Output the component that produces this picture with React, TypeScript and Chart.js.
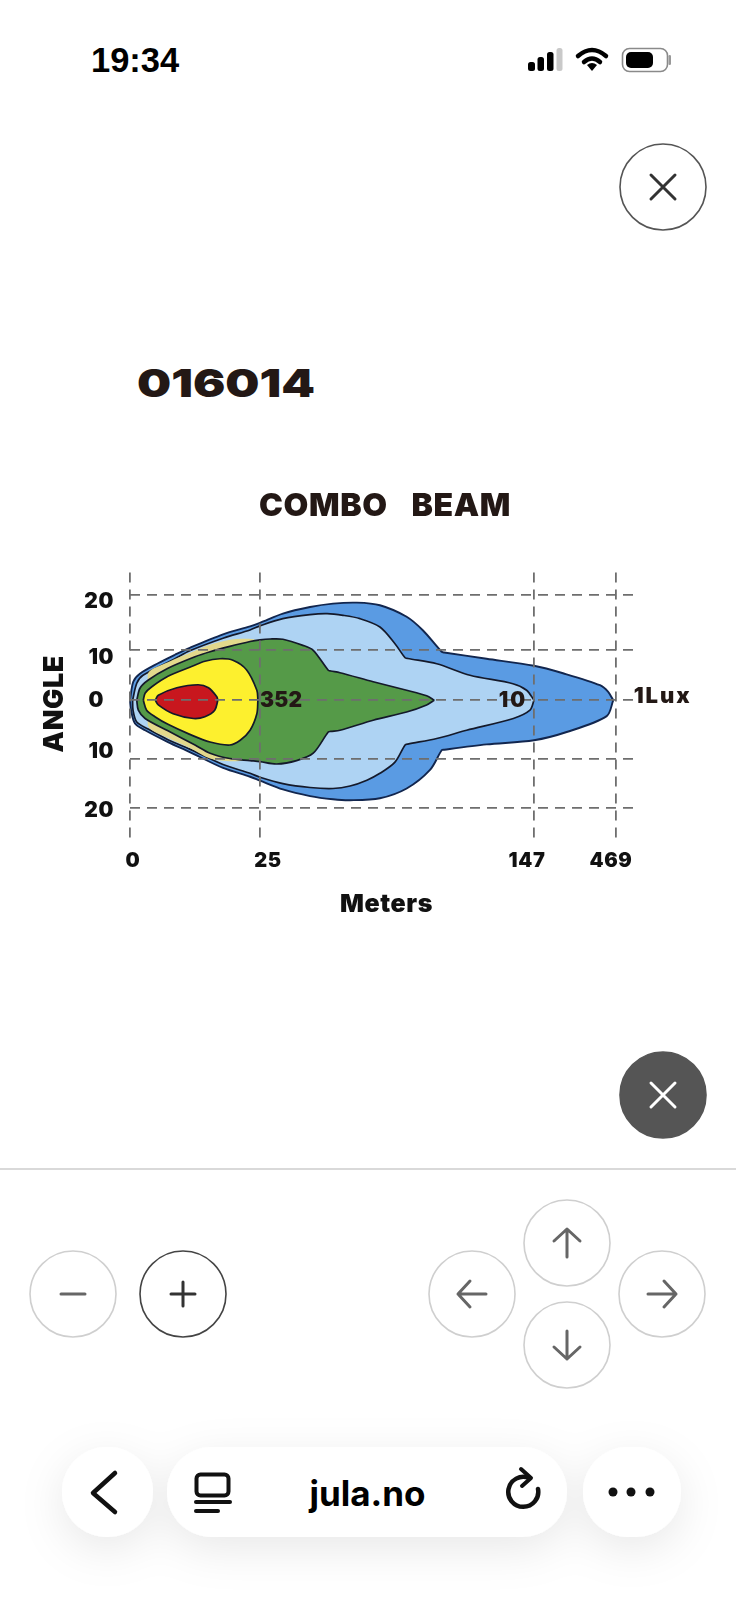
import React, { useEffect, useRef } from "react";
import { Chart, LinearScale, registerables } from "chart.js";

// ---- data: metres (x) and beam angle in degrees (y) ----
const xTicks = [0, 25, 147, 469];
const yTicks = [-20, -10, 0, 10, 20];

const lux1Upper = [[0,0],[0.63,3.7],[1.9,5.3],[5.4,7.4],[8.65,9.1],[11.5,10.45],[17.9,12.9],[23.1,14.36],[25,15],[35.2,16.67],[47.3,17.87],[57.5,18.49],[68.1,18.67],[78.4,18.2],[90.3,16.1],[97.6,13.6],[105.9,9.7],[107,9.55],[125.9,8.3],[147,6.9],[260.9,5.4],[406.2,3],[437.6,1.7],[458.4,0]];
const lux1Lower = [[0,0],[0.2,-1.7],[0.96,-3.95],[2.9,-5.1],[7.3,-7.1],[11.5,-8.8],[17.9,-11.8],[23.1,-13.6],[25,-14.4],[35.2,-16.2],[47.3,-17.55],[57.5,-18.2],[65.1,-18.4],[78.4,-18],[90.3,-16],[100.7,-12.2],[105.9,-8.5],[107,-8.4],[125.9,-7.5],[147,-6.8],[275.4,-5.4],[432.5,-2.7],[458.4,0]];
const lux10Upper = [[0.5,0],[1.3,3.4],[2.5,5],[8.65,8.3],[11.5,9.9],[17.9,12.2],[23.1,13.7],[25,14.45],[35.2,15.76],[47.3,16.5],[54.9,16.67],[62,16.36],[69.5,15.76],[78.4,14.24],[85.1,11.2],[89.6,8.5],[90.8,8.35],[103.7,7.3],[118.5,5],[137.6,3.3],[143.7,2],[147,0]];
const lux10Lower = [[0.5,0],[0.58,-1.7],[1.3,-3.7],[3.5,-4.9],[7.3,-6.7],[11.5,-8.3],[17.9,-11.1],[23.1,-12.9],[25,-13.7],[35.2,-15],[47.3,-15.8],[57.5,-16],[65.1,-15.5],[72.6,-14.3],[78.4,-12.9],[85.1,-10.6],[89.6,-7.6],[90.8,-7.45],[103.7,-6.5],[117,-5.1],[137.8,-3.1],[145.2,-1.7],[147,0]];
const paleUpper = [[3.4,0],[3.46,5.4],[7.3,7.6],[12.5,9.9],[15.4,11],[19.2,11.9],[22.4,12.1],[24,12]];
const paleLower = [[3.4,0],[3.5,-4.4],[7.3,-6.4],[11.5,-8.1],[15.4,-9.9],[18.6,-10.4],[21.2,-10.4],[24,-10]];
const greenUpper = [[1.3,0],[1.92,2.4],[3.46,4],[7.3,6.4],[12.5,8.7],[15.4,9.7],[19.2,10.7],[23.1,11.6],[25,11.9],[29.5,12.05],[35.2,12],[44.1,10.9],[48.7,10],[55.4,6],[56.5,5.85],[60.6,5.5],[75.4,3.7],[90.3,2],[99.2,0.9],[102.6,0]];
const greenLower = [[1.3,0],[1.6,-1.7],[2.9,-3.1],[7.3,-5.2],[12.5,-7.6],[15.4,-9],[19.2,-9.9],[23.1,-10.3],[25,-10.5],[32.4,-11],[41.3,-10.3],[48.7,-9],[55.4,-5.4],[56.5,-5.3],[60.6,-5.1],[75.4,-3.4],[90.3,-2],[99.2,-0.8],[102.6,0]];
const yellowUpper = [[2.56,0],[2.9,1.4],[4.2,2.7],[7.3,4.8],[11.5,6.6],[14.4,7.8],[17.3,8.3],[19.8,8],[22.4,6.1],[24.4,2],[24.6,0]];
const yellowLower = [[2.56,0],[3.2,-1.7],[4.8,-2.8],[7.3,-4.1],[11.5,-5.8],[15.4,-7.1],[19.2,-7.6],[21.2,-6.8],[23.1,-5.1],[24.4,-2.3],[24.6,0]];
const redUpper = [[4.87,0],[5.44,1],[9,2.5],[13.1,3.1],[15.1,2.5],[16.7,0.7],[16.9,0]];
const redLower = [[4.87,0],[5.44,-0.8],[8.3,-2.3],[12.2,-3.1],[14.4,-2.8],[16.3,-1.7],[16.9,0]];

const contourLabels = [
  { text: "352", x: 25, y: 0, align: "left", size: 21, spacing: "0.3px" },
  { text: "10", x: 144, y: 0, align: "right", size: 21, spacing: "2px" },
  { text: "1Lux", x: 653, y: 0.8, align: "center", size: 22, spacing: "2px" },
];

// ---- axis layout: the printed axes are not linear ----
const axisStops: any = {
  x: { values: [0, 25, 147, 469, 536], decimals: [0, 0.2584, 0.8032, 0.9662, 1], ticks: xTicks, nudge: [[3, 0], [8, 0], [-7, 0], [-5, 0]], title: [5, 0] },
  y: { values: [-25, -20, -10, 0, 10, 20, 25], decimals: [0, 0.1161, 0.2996, 0.5206, 0.7079, 0.9139, 1], ticks: yTicks, nudge: [[0, 3], [0, -7], [-10, 0], [0, 7], [0, 6]], title: [0, -2] },
};

class PrintedScale extends (LinearScale as any) {
  static id = "printed";
  static defaults = {};
  buildTicks() {
    return axisStops[this.id].ticks.map((value: number) => ({ value }));
  }
  getPixelForValue(v: number) {
    const { values, decimals } = axisStops[this.id];
    let i = 0;
    while (i < values.length - 2 && v > values[i + 1]) i++;
    const t = (v - values[i]) / (values[i + 1] - values[i]);
    return this.getPixelForDecimal(decimals[i] + t * (decimals[i + 1] - decimals[i]));
  }
  _computeLabelItems(area: any) {
    const items = super._computeLabelItems(area);
    const nudge = axisStops[this.id].nudge;
    items.forEach((item: any, i: number) => {
      const tr = item.options.translation;
      item.options.translation = [tr[0] + nudge[i][0], tr[1] + nudge[i][1]];
    });
    return items;
  }
  drawTitle() {
    const [dx, dy] = axisStops[this.id].title;
    this.ctx.save();
    this.ctx.translate(dx, dy);
    super.drawTitle();
    this.ctx.restore();
  }
}

Chart.register(...registerables, PrintedScale as any);

const FONT = "Inter";
const INK = "#231815";
const STROKE = "#14192a";

function toPoints(list: number[][]) {
  return list.map(([x, y]) => ({ x, y }));
}

function band(name: string, upper: number[][], lower: number[][], color: string, border: string, width = 1.7) {
  const common = {
    pointRadius: 0,
    borderColor: border,
    borderWidth: width,
    tension: 0.3,
    clip: false,
  };
  return [
    { ...common, label: name + " upper", data: toPoints(upper), fill: false },
    { ...common, label: name + " lower", data: toPoints(lower), fill: "-1", backgroundColor: color },
  ];
}

const labelPlugin = {
  id: "contourLabels",
  afterLayout(chart: any) {
    chart.titleBlock.left += 3.5;
    chart.titleBlock.right += 3.5;
  },
  beforeDraw(chart: any) {
    chart.ctx.letterSpacing = "0.6px";
    chart.ctx.wordSpacing = "5px";
  },
  afterDraw(chart: any) {
    const { ctx, scales } = chart;
    ctx.save();
    ctx.fillStyle = INK;
    ctx.textBaseline = "middle";
    contourLabels.forEach((l) => {
      ctx.font = `900 ${l.size}px ${FONT}`;
      ctx.letterSpacing = l.spacing;
      ctx.textAlign = l.align;
      ctx.fillText(l.text, scales.x.getPixelForValue(l.x), scales.y.getPixelForValue(l.y));
    });
    ctx.restore();
  },
};

function BeamChart() {
  const ref = useRef<HTMLCanvasElement>(null);
  useEffect(() => {
    const gridLine = { color: "#6e6e6e", lineWidth: 1.8, drawTicks: false, z: 1 };
    const dash = { display: false, dash: [10, 7] };
    const chart = new Chart(ref.current as any, {
      type: "line",
      data: {
        datasets: [
          ...band("100 lux", redUpper, redLower, "#c8171e", STROKE),
          ...band("50 lux", yellowUpper, yellowLower, "#fdf02e", STROKE),
          ...band("352 lux", greenUpper, greenLower, "#559a48", STROKE),
          ...band("pale", paleUpper, paleLower, "#e3d98c", "rgba(0,0,0,0)", 0),
          ...band("10 lux", lux10Upper, lux10Lower, "#aed3f3", STROKE),
          ...band("1 lux", lux1Upper, lux1Lower, "#5a9be3", "#12264e", 1.9),
        ] as any,
      },
      options: {
        responsive: false,
        animation: false,
        events: [],
        layout: { padding: { left: 39, right: 103, top: 0, bottom: 0 } },
        plugins: {
          legend: { display: false },
          tooltip: { enabled: false },
          filler: { drawTime: "beforeDatasetDraw" },
          title: {
            display: true,
            text: "COMBO  BEAM",
            fullSize: false,
            color: INK,
            font: { family: FONT, size: 32, weight: "900" },
            padding: { top: 7, bottom: 47 },
          },
        },
        scales: {
          x: {
            type: "printed",
            min: 0,
            max: 536,
            grid: gridLine,
            border: dash,
            afterFit: (s: any) => { s.height = 81; },
            ticks: { autoSkip: false, maxRotation: 0, padding: 10, color: "#111", font: { family: FONT, size: 20, weight: "900" } },
            title: { display: true, text: "Meters", color: "#111", padding: { top: 0, bottom: 1 }, font: { family: FONT, size: 25, weight: "900" } },
          },
          y: {
            type: "printed",
            min: -25,
            max: 25,
            grid: gridLine,
            border: dash,
            afterFit: (s: any) => { s.width = 91; },
            ticks: { autoSkip: false, padding: 16, color: "#111", font: { family: FONT, size: 21, weight: "900" }, callback: (v: any) => String(Math.abs(v)) },
            title: { display: true, text: "ANGLE", color: "#111", padding: 0, font: { family: FONT, size: 27, weight: "900" } },
          },
        },
      } as any,
      plugins: [labelPlugin as any],
    });
    return () => chart.destroy();
  }, []);
  return <canvas ref={ref} width={736} height={440} style={{ position: "absolute", left: 0, top: 480, width: 736, height: 440 }} />;
}

// ---- the surrounding phone screen ----
function Round({ cx, cy, border, fill, children }: any) {
  return (
    <g>
      <circle cx={cx} cy={cy} r={43} fill={fill || "#fff"} stroke={border} strokeWidth={1.6} />
      <g transform={`translate(${cx} ${cy})`} fill="none" strokeLinecap="round" strokeLinejoin="round">{children}</g>
    </g>
  );
}

const closeIcon = (c: string) => <path d="M-12 -12L12 12M12 -12L-12 12" stroke={c} strokeWidth={3} />;

function Screen() {
  return (
    <svg width={736} height={1600} style={{ position: "absolute", left: 0, top: 0 }}>
      <defs>
        <filter id="soft" x="-30%" y="-60%" width="160%" height="240%">
          <feDropShadow dx="0" dy="12" stdDeviation="22" floodColor="#000" floodOpacity="0.09" />
        </filter>
      </defs>
      <text x={91} y={72} fontFamily="'Liberation Sans'" fontWeight="bold" fontSize={34.5}>19:34</text>
      <rect x={528} y={62} width={7} height={9} rx={2.5} fill="#000" />
      <rect x={537.5} y={57} width={6.5} height={14} rx={2.5} fill="#000" />
      <rect x={547} y={52} width={6.5} height={19} rx={2.5} fill="#000" />
      <rect x={556.5} y={48} width={6} height={23} rx={2.5} fill="#c9c9c9" />
      <path d="M578 56 Q592 44 606 56" fill="none" stroke="#000" strokeWidth={4.5} strokeLinecap="round" />
      <path d="M584 62 Q592 55 600 62" fill="none" stroke="#000" strokeWidth={4.5} strokeLinecap="round" />
      <path d="M587 65 L592 71 L597 65 Q592 61 587 65Z" fill="#000" />
      <rect x={622.5} y={48.5} width={45} height={23} rx={7} fill="#fff" stroke="#8a8a8a" strokeWidth={1.6} />
      <rect x={626} y={52} width={27} height={16} rx={5} fill="#000" />
      <rect x={668.5} y={55} width={2.5} height={10} rx={1.2} fill="#999" />

      <Round cx={663} cy={187} border="#555">{closeIcon("#333")}</Round>
      <Round cx={663} cy={1095} border="#555" fill="#555">{closeIcon("#fff")}</Round>

      <rect x={0} y={1168} width={736} height={2} fill="#d9d9d9" />

      <Round cx={73} cy={1294} border="#cfcfcf"><path d="M-12 0H12" stroke="#666" strokeWidth={3} /></Round>
      <Round cx={183} cy={1294} border="#444"><path d="M-12 0H12M0 -12V12" stroke="#333" strokeWidth={3} /></Round>
      <Round cx={472} cy={1294} border="#cfcfcf"><path d="M14 0H-14M-2 -13L-14 0L-2 13" stroke="#666" strokeWidth={3} /></Round>
      <Round cx={662} cy={1294} border="#cfcfcf"><path d="M-14 0H14M2 -13L14 0L2 13" stroke="#666" strokeWidth={3} /></Round>
      <Round cx={567} cy={1243} border="#cfcfcf"><path d="M0 14V-14M-13 -2L0 -14L13 -2" stroke="#666" strokeWidth={3} /></Round>
      <Round cx={567} cy={1345} border="#cfcfcf"><path d="M0 -14V14M-13 2L0 14L13 2" stroke="#666" strokeWidth={3} /></Round>

      <g filter="url(#soft)">
        <rect x={62} y={1447} width={91} height={90} rx={45} fill="#fff" />
        <rect x={167} y={1447} width={400} height={90} rx={45} fill="#fff" />
        <rect x={583} y={1447} width={98} height={90} rx={45} fill="#fff" />
      </g>
      <path d="M115 1473L93 1493L115 1512" fill="none" stroke="#111" strokeWidth={4.5} strokeLinecap="round" strokeLinejoin="round" />
      <rect x={196.5} y={1474.5} width={32} height={21} rx={4} fill="none" stroke="#111" strokeWidth={4} />
      <path d="M196 1502H230" stroke="#111" strokeWidth={4} strokeLinecap="round" />
      <path d="M196 1511H218" stroke="#111" strokeWidth={4} strokeLinecap="round" />
      <text x={367.5} y={1506} textAnchor="middle" fontFamily="Inter" fontWeight={700} fontSize={35}>jula.no</text>
      <path d="M529 1478 A15 15 0 1 0 538 1489" fill="none" stroke="#111" strokeWidth={4.5} strokeLinecap="round" />
      <path d="M521 1469L531 1478L522 1486" fill="none" stroke="#111" strokeWidth={4} strokeLinecap="round" strokeLinejoin="round" />
      <circle cx={613} cy={1492} r={4.5} fill="#111" />
      <circle cx={631} cy={1492} r={4.5} fill="#111" />
      <circle cx={650} cy={1492} r={4.5} fill="#111" />

      <text x={137} y={397} fontFamily="Inter" fontWeight={900} fontSize={39} textLength={178} lengthAdjust="spacingAndGlyphs" fill="#231815">016014</text>
    </svg>
  );
}

export default function App() {
  return (
    <div style={{ position: "absolute", left: 0, top: 0, width: 736, height: 1600, overflow: "hidden", background: "#fff" }}>
      <Screen />
      <BeamChart />
    </div>
  );
}
